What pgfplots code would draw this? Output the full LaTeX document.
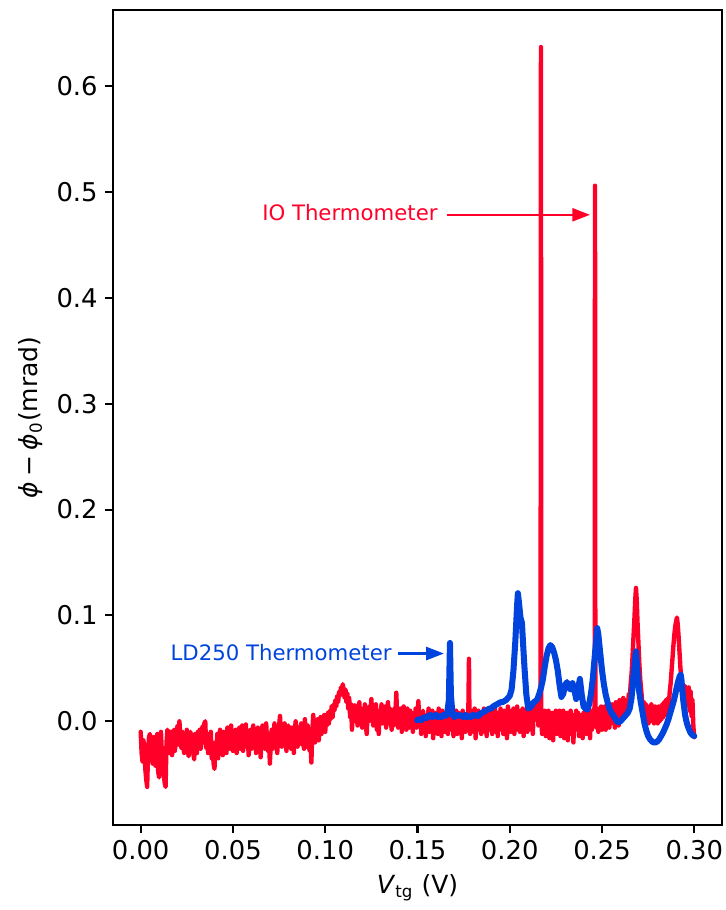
\documentclass[border=0pt]{standalone}
\usepackage{fontspec}
\setmainfont{DejaVu Sans}
\usepackage{pgfplots}
\pgfplotsset{compat=1.18}
\usetikzlibrary{arrows.meta,calc}
\definecolor{myred}{RGB}{255,0,40}
\definecolor{myblue}{RGB}{0,68,221}

\begin{document}
\begin{tikzpicture}
\begin{axis}[
  scale only axis, width=292.3pt, height=391.2pt,
  xmin=-0.015, xmax=0.315, ymin=-0.098, ymax=0.672,
  xtick={0,0.05,0.1,0.15,0.2,0.25,0.3},
  ytick={0,0.1,0.2,0.3,0.4,0.5,0.6},
  xticklabel style={/pgf/number format/.cd, fixed, fixed zerofill, precision=2},
  yticklabel style={/pgf/number format/.cd, fixed, fixed zerofill, precision=1},
  /pgf/number format/assume math mode=true,
  ticklabel style={font=\fontsize{12.4}{14}\selectfont},
  scaled x ticks=false, scaled y ticks=false,
  tick align=outside, major tick length=3.84pt,
  xtick pos=bottom, ytick pos=left,
  axis line style={line width=1pt},
  every tick/.style={black, line width=1pt},
  label style={font=\fontsize{12}{14}\selectfont},
  xlabel={\textit{V}\textsubscript{tg} (V)},
  ylabel={\textit{ϕ}\hspace{0.22em}−\hspace{0.22em}\textit{ϕ}\textsubscript{0}(mrad)},
  xlabel style={at={([yshift=-33pt]axis description cs:0.5,0)}, anchor=base},
  ylabel style={at={([xshift=-36pt]axis description cs:0,0.5)}, anchor=base},
]
\addplot[myred, line width=2.1pt, line join=round, line cap=round] coordinates {
(0.0000,-0.010) (0.0005,-0.030) (0.0010,-0.038) (0.0015,-0.018) (0.0020,-0.025) (0.0025,-0.045) (0.0030,-0.055) (0.0035,-0.062) (0.0040,-0.030) (0.0045,-0.015)
(0.0050,-0.012) (0.0055,-0.035) (0.0060,-0.025) (0.0065,-0.040) (0.0070,-0.015) (0.0075,-0.028) (0.0080,-0.042) (0.0085,-0.020) (0.0090,-0.012) (0.0095,-0.048)
(0.0100,-0.053) (0.0105,-0.020) (0.0110,-0.010) (0.0115,-0.032) (0.0120,-0.025) (0.0125,-0.050) (0.0130,-0.058) (0.0135,-0.062) (0.0140,-0.020) (0.0145,-0.008)
(0.0150,-0.015) (0.0155,-0.030) (0.0160,-0.010) (0.0165,-0.025) (0.0170,-0.032) (0.0175,-0.012) (0.0180,-0.008) (0.0185,-0.028) (0.0190,-0.020) (0.0195,-0.010)
(0.0200,-0.004) (0.0205,-0.022) (0.0210,0.000) (0.0215,-0.015) (0.0220,-0.025) (0.0225,-0.010) (0.0230,-0.018) (0.0235,-0.030) (0.0240,-0.012) (0.0245,-0.022)
(0.0250,-0.008) (0.0255,-0.028) (0.0260,-0.033) (0.0265,-0.015) (0.0270,-0.010) (0.0275,-0.025) (0.0280,-0.018) (0.0285,-0.030) (0.0290,-0.036) (0.0295,-0.012)
(0.0300,-0.020) (0.0305,-0.030) (0.0310,-0.010) (0.0315,-0.022) (0.0320,-0.008) (0.0325,-0.026) (0.0330,-0.015) (0.0335,-0.005) (0.0340,-0.020) (0.0345,-0.002)
(0.0350,0.000) (0.0355,-0.025) (0.0360,-0.012) (0.0365,-0.030) (0.0370,-0.018) (0.0375,-0.028) (0.0380,-0.010) (0.0385,-0.035) (0.0390,-0.022) (0.0395,-0.040)
(0.0400,-0.045) (0.0405,-0.020) (0.0410,-0.030) (0.0415,-0.012) (0.0420,-0.035) (0.0425,-0.018) (0.0430,-0.008) (0.0435,-0.028) (0.0440,-0.020) (0.0445,-0.032)
(0.0450,-0.010) (0.0455,-0.025) (0.0460,-0.015) (0.0465,-0.030) (0.0470,-0.006) (0.0475,-0.022) (0.0480,-0.012) (0.0485,-0.026) (0.0490,-0.004) (0.0495,-0.018)
(0.0500,-0.028) (0.0505,-0.012) (0.0510,-0.022) (0.0515,-0.008) (0.0520,-0.030) (0.0525,-0.016) (0.0530,-0.024) (0.0535,-0.006) (0.0540,-0.026) (0.0545,-0.014)
(0.0550,-0.004) (0.0555,-0.028) (0.0560,-0.018) (0.0565,-0.010) (0.0570,-0.003) (0.0575,-0.024) (0.0580,-0.012) (0.0585,-0.032) (0.0590,-0.020) (0.0595,-0.008)
(0.0600,-0.026) (0.0605,-0.014) (0.0610,-0.004) (0.0615,-0.022) (0.0620,-0.010) (0.0625,-0.030) (0.0630,-0.018) (0.0635,-0.006) (0.0640,-0.024) (0.0645,-0.012)
(0.0650,-0.034) (0.0655,-0.016) (0.0660,-0.004) (0.0665,-0.022) (0.0670,-0.010) (0.0675,-0.026) (0.0680,-0.002) (0.0685,-0.018) (0.0690,-0.028) (0.0695,-0.012)
(0.0700,-0.040) (0.0705,-0.022) (0.0710,-0.008) (0.0715,-0.026) (0.0720,-0.014) (0.0725,-0.002) (0.0730,-0.020) (0.0735,-0.010) (0.0740,-0.030) (0.0745,-0.016)
(0.0750,-0.004) (0.0755,0.005) (0.0760,-0.012) (0.0765,-0.024) (0.0770,-0.008) (0.0775,-0.020) (0.0780,-0.002) (0.0785,-0.016) (0.0790,-0.028) (0.0795,-0.010)
(0.0800,-0.004) (0.0805,-0.022) (0.0810,-0.012) (0.0815,-0.026) (0.0820,-0.006) (0.0825,-0.018) (0.0830,-0.030) (0.0835,-0.008) (0.0840,0.000) (0.0845,-0.016)
(0.0850,-0.024) (0.0855,-0.006) (0.0860,-0.020) (0.0865,-0.010) (0.0870,-0.002) (0.0875,-0.022) (0.0880,-0.012) (0.0885,-0.026) (0.0890,0.002) (0.0895,-0.014)
(0.0900,-0.024) (0.0905,-0.004) (0.0910,-0.016) (0.0915,-0.028) (0.0920,-0.020) (0.0925,-0.039) (0.0930,-0.010) (0.0935,0.006) (0.0940,-0.008) (0.0945,-0.020)
(0.0950,-0.004) (0.0955,-0.014) (0.0960,0.002) (0.0965,-0.018) (0.0970,-0.006) (0.0975,0.004) (0.0980,-0.012) (0.0985,0.000) (0.0990,-0.008) (0.0995,0.006)
(0.1000,-0.010) (0.1005,0.002) (0.1010,-0.004) (0.1015,0.008) (0.1020,-0.002) (0.1025,0.010) (0.1030,0.002) (0.1035,0.014) (0.1040,0.004) (0.1045,0.016)
(0.1050,0.010) (0.1055,0.020) (0.1060,0.014) (0.1065,0.024) (0.1070,0.018) (0.1075,0.028) (0.1080,0.024) (0.1085,0.032) (0.1090,0.028) (0.1095,0.035)
(0.1100,0.030) (0.1105,0.022) (0.1110,0.030) (0.1115,0.018) (0.1120,0.026) (0.1125,0.012) (0.1130,0.022) (0.1135,0.004) (0.1140,0.016) (0.1145,-0.008)
(0.1150,0.010) (0.1155,0.000) (0.1160,0.015) (0.1165,0.004) (0.1170,0.012) (0.1175,-0.004) (0.1180,0.010) (0.1185,0.018) (0.1190,0.000) (0.1195,0.008)
(0.1200,-0.006) (0.1205,0.012) (0.1210,0.002) (0.1215,0.016) (0.1220,-0.004) (0.1225,-0.012) (0.1230,0.010) (0.1235,0.000) (0.1240,0.014) (0.1245,0.004)
(0.1250,0.021) (0.1255,0.006) (0.1260,-0.004) (0.1265,0.012) (0.1270,0.000) (0.1275,0.016) (0.1280,-0.008) (0.1285,0.006) (0.1290,-0.012) (0.1295,0.010)
(0.1300,0.002) (0.1305,0.016) (0.1310,-0.002) (0.1315,0.012) (0.1320,0.000) (0.1325,0.014) (0.1330,-0.006) (0.1335,0.008) (0.1340,0.018) (0.1345,-0.002)
(0.1350,0.012) (0.1355,0.002) (0.1360,-0.008) (0.1365,0.010) (0.1370,-0.004) (0.1375,0.012) (0.1380,0.004) (0.1385,0.027) (0.1390,0.006) (0.1395,-0.006)
(0.1400,0.010) (0.1405,-0.002) (0.1410,0.012) (0.1415,-0.010) (0.1420,0.006) (0.1425,0.014) (0.1430,-0.004) (0.1435,0.008) (0.1440,-0.008) (0.1445,0.012)
(0.1450,0.002) (0.1455,-0.006) (0.1460,0.010) (0.1465,-0.004) (0.1470,0.008) (0.1475,-0.010) (0.1480,0.006) (0.1485,-0.002) (0.1490,0.012) (0.1495,-0.006)
(0.1500,0.008) (0.1505,0.019) (0.1510,-0.004) (0.1515,0.008) (0.1520,-0.012) (0.1525,0.004) (0.1530,0.010) (0.1535,-0.008) (0.1540,0.002) (0.1545,-0.014)
(0.1550,0.006) (0.1555,-0.002) (0.1560,0.012) (0.1565,-0.010) (0.1570,0.004) (0.1575,-0.006) (0.1580,0.010) (0.1585,-0.016) (0.1590,0.002) (0.1595,0.008)
(0.1600,-0.008) (0.1605,0.006) (0.1610,-0.012) (0.1615,0.012) (0.1620,-0.004) (0.1625,0.002) (0.1630,-0.014) (0.1635,0.010) (0.1640,-0.006) (0.1645,0.004)
(0.1650,-0.010) (0.1655,0.008) (0.1660,-0.002) (0.1665,-0.012) (0.1670,0.006) (0.1675,-0.008) (0.1680,0.012) (0.1685,-0.004) (0.1690,0.004) (0.1695,-0.014)
(0.1700,0.006) (0.1705,-0.006) (0.1710,0.010) (0.1715,-0.012) (0.1720,0.002) (0.1725,0.008) (0.1730,-0.010) (0.1735,0.004) (0.1740,-0.016) (0.1745,0.010)
(0.1750,-0.002) (0.1755,0.006) (0.1760,-0.010) (0.1765,0.004) (0.1770,-0.008) (0.1775,0.002) (0.1779,0.059) (0.1782,-0.004) (0.1785,-0.012) (0.1790,0.008)
(0.1795,-0.006) (0.1800,0.010) (0.1805,-0.010) (0.1810,0.012) (0.1815,-0.016) (0.1820,0.004) (0.1825,-0.008) (0.1830,0.010) (0.1835,-0.004) (0.1840,0.008)
(0.1845,-0.012) (0.1850,0.006) (0.1855,-0.002) (0.1860,0.012) (0.1865,-0.010) (0.1870,0.006) (0.1875,-0.014) (0.1880,0.008) (0.1885,-0.006) (0.1890,0.010)
(0.1895,-0.008) (0.1900,0.004) (0.1905,-0.012) (0.1910,0.010) (0.1915,-0.004) (0.1920,0.012) (0.1925,-0.010) (0.1930,0.002) (0.1935,-0.014) (0.1940,0.008)
(0.1945,-0.006) (0.1950,0.012) (0.1955,-0.008) (0.1960,0.006) (0.1965,-0.012) (0.1970,0.010) (0.1975,-0.004) (0.1980,0.008) (0.1985,-0.016) (0.1990,0.014)
(0.1995,-0.002) (0.2000,0.006) (0.2005,-0.010) (0.2010,0.010) (0.2015,-0.006) (0.2020,0.012) (0.2025,-0.012) (0.2030,0.004) (0.2035,-0.008) (0.2040,0.014)
(0.2045,-0.002) (0.2050,0.010) (0.2055,-0.010) (0.2060,0.006) (0.2065,-0.004) (0.2070,0.012) (0.2075,-0.014) (0.2080,0.008) (0.2085,-0.006) (0.2090,0.010)
(0.2095,-0.010) (0.2100,0.004) (0.2105,-0.008) (0.2110,0.012) (0.2115,-0.004) (0.2120,0.016) (0.2125,-0.012) (0.2130,0.010) (0.2135,0.002) (0.2140,0.020)
(0.2145,0.006) (0.2150,0.016) (0.2155,-0.004) (0.2160,0.012) (0.2165,0.004) (0.2167,0.018) (0.2169,0.637) (0.2171,0.006) (0.2175,-0.012) (0.2180,0.008)
(0.2185,-0.006) (0.2190,0.010) (0.2195,-0.014) (0.2200,0.004) (0.2205,-0.008) (0.2210,0.010) (0.2215,-0.016) (0.2220,0.006) (0.2225,-0.010) (0.2230,0.008)
(0.2235,-0.018) (0.2240,0.004) (0.2245,-0.006) (0.2250,0.010) (0.2255,-0.012) (0.2260,0.006) (0.2265,-0.004) (0.2270,0.010) (0.2275,-0.014) (0.2280,0.004)
(0.2285,-0.008) (0.2290,0.010) (0.2295,-0.016) (0.2300,0.006) (0.2305,-0.006) (0.2310,0.008) (0.2315,-0.018) (0.2320,0.002) (0.2325,-0.010) (0.2330,0.010)
(0.2335,-0.012) (0.2340,0.004) (0.2345,-0.020) (0.2350,0.006) (0.2355,-0.008) (0.2360,0.010) (0.2365,-0.004) (0.2370,0.008) (0.2375,-0.014) (0.2380,0.006)
(0.2385,-0.010) (0.2390,0.004) (0.2395,-0.016) (0.2400,0.008) (0.2405,-0.006) (0.2410,0.010) (0.2415,-0.012) (0.2420,0.006) (0.2425,-0.004) (0.2430,0.010)
(0.2435,-0.016) (0.2440,0.006) (0.2445,-0.008) (0.2450,0.008) (0.2455,0.012) (0.2460,0.004) (0.2462,0.506) (0.2464,0.008) (0.2470,-0.006) (0.2475,0.010)
(0.2480,-0.010) (0.2485,0.012) (0.2490,-0.004) (0.2495,0.014) (0.2500,-0.008) (0.2505,0.010) (0.2510,-0.002) (0.2515,0.014) (0.2520,-0.008) (0.2525,0.010)
(0.2530,-0.004) (0.2535,0.016) (0.2540,-0.006) (0.2545,0.012) (0.2550,-0.002) (0.2555,0.016) (0.2560,0.000) (0.2565,0.010) (0.2570,-0.006) (0.2575,0.018)
(0.2580,0.002) (0.2585,0.012) (0.2590,-0.004) (0.2595,0.020) (0.2600,0.004) (0.2605,0.014) (0.2610,0.002) (0.2615,0.022) (0.2620,0.008) (0.2625,0.020)
(0.2630,0.006) (0.2635,0.018) (0.2640,0.012) (0.2645,0.026) (0.2650,0.020) (0.2655,0.035) (0.2660,0.045) (0.2665,0.060) (0.2670,0.078) (0.2675,0.095)
(0.2680,0.115) (0.2684,0.126) (0.2688,0.115) (0.2692,0.095) (0.2697,0.075) (0.2702,0.055) (0.2707,0.040) (0.2712,0.030) (0.2717,0.020) (0.2722,0.010)
(0.2727,0.018) (0.2732,0.004) (0.2737,0.016) (0.2742,0.002) (0.2747,0.014) (0.2752,-0.002) (0.2757,0.012) (0.2762,0.000) (0.2767,0.016) (0.2772,0.002)
(0.2777,0.012) (0.2782,-0.002) (0.2787,0.014) (0.2792,0.004) (0.2797,0.010) (0.2802,-0.002) (0.2807,0.014) (0.2812,0.000) (0.2817,0.012) (0.2822,0.002)
(0.2827,0.016) (0.2832,0.004) (0.2837,0.018) (0.2842,0.006) (0.2847,0.020) (0.2852,0.010) (0.2857,0.022) (0.2862,0.016) (0.2867,0.028) (0.2872,0.036)
(0.2877,0.048) (0.2882,0.060) (0.2887,0.072) (0.2892,0.082) (0.2897,0.090) (0.2902,0.095) (0.2906,0.098) (0.2910,0.092) (0.2915,0.080) (0.2920,0.065)
(0.2925,0.050) (0.2930,0.040) (0.2935,0.030) (0.2940,0.034) (0.2945,0.022) (0.2950,0.033) (0.2955,0.018) (0.2960,0.030) (0.2965,0.015) (0.2970,0.032)
(0.2975,0.010) (0.2980,0.028) (0.2985,0.005) (0.2990,0.020) (0.2995,-0.005) (0.3000,-0.015)
};
\addplot[myblue, line width=2.9pt, line join=round, line cap=round] coordinates {
(0.1498,0.001) (0.151,0.002) (0.152,0.001) (0.153,0.003) (0.154,0.004) (0.155,0.003) (0.156,0.005) (0.157,0.006) (0.158,0.004) (0.159,0.005)
(0.160,0.006) (0.161,0.004) (0.162,0.005) (0.163,0.004) (0.164,0.006) (0.165,0.005) (0.166,0.006) (0.167,0.020) (0.1676,0.074) (0.1681,0.025)
(0.169,0.006) (0.170,0.004) (0.171,0.006) (0.172,0.005) (0.173,0.006) (0.174,0.005) (0.175,0.004) (0.176,0.006) (0.177,0.004) (0.178,0.005)
(0.179,0.004) (0.180,0.006) (0.181,0.005) (0.182,0.006) (0.183,0.005) (0.184,0.007) (0.185,0.008) (0.186,0.009) (0.187,0.010) (0.188,0.011)
(0.189,0.012) (0.190,0.012) (0.191,0.014) (0.192,0.015) (0.193,0.016) (0.194,0.017) (0.195,0.018) (0.196,0.018) (0.197,0.019) (0.198,0.020)
(0.199,0.022) (0.200,0.024) (0.201,0.030) (0.202,0.048) (0.203,0.075) (0.204,0.110) (0.2044,0.121) (0.205,0.112) (0.2058,0.098) (0.2066,0.093)
(0.207,0.080) (0.208,0.050) (0.209,0.025) (0.210,0.012) (0.211,0.013) (0.212,0.015) (0.213,0.018) (0.214,0.019) (0.215,0.021) (0.216,0.026)
(0.217,0.032) (0.218,0.040) (0.219,0.052) (0.220,0.062) (0.221,0.069) (0.222,0.072) (0.223,0.070) (0.224,0.065) (0.225,0.058) (0.226,0.048)
(0.227,0.034) (0.228,0.023) (0.229,0.026) (0.230,0.034) (0.231,0.037) (0.232,0.032) (0.233,0.030) (0.234,0.036) (0.235,0.030) (0.236,0.021)
(0.237,0.030) (0.238,0.040) (0.239,0.025) (0.240,0.014) (0.241,0.012) (0.242,0.011) (0.243,0.016) (0.244,0.026) (0.245,0.040) (0.246,0.060)
(0.247,0.080) (0.2474,0.088) (0.248,0.082) (0.249,0.065) (0.250,0.048) (0.251,0.035) (0.252,0.025) (0.253,0.018) (0.254,0.012) (0.255,0.008)
(0.256,0.006) (0.257,0.003) (0.258,0.000) (0.259,-0.001) (0.260,0.000) (0.261,0.002) (0.262,0.004) (0.263,0.006) (0.264,0.008) (0.265,0.012)
(0.266,0.022) (0.267,0.042) (0.268,0.060) (0.2684,0.066) (0.269,0.052) (0.270,0.030) (0.271,0.018) (0.272,0.008) (0.273,-0.002) (0.274,-0.009)
(0.275,-0.014) (0.276,-0.017) (0.277,-0.019) (0.278,-0.020) (0.279,-0.020) (0.280,-0.019) (0.281,-0.017) (0.282,-0.014) (0.283,-0.011) (0.284,-0.007)
(0.285,-0.003) (0.286,0.002) (0.287,0.008) (0.288,0.014) (0.289,0.020) (0.290,0.028) (0.291,0.036) (0.292,0.042) (0.2926,0.044) (0.293,0.040)
(0.294,0.020) (0.295,0.006) (0.296,-0.002) (0.297,-0.007) (0.298,-0.011) (0.299,-0.013) (0.300,-0.014)
};
\node[anchor=east, inner sep=0pt, text=myred, font=\fontsize{10.2}{12}\selectfont] at (axis cs:0.1611,0.4804) {IO Thermometer};
\draw[myred, line width=1pt, -{Triangle[length=8.5pt,width=6.3pt]}] (axis cs:0.1660,0.4785) -- (axis cs:0.2435,0.4785);
\node[anchor=east, inner sep=0pt, text=myblue, font=\fontsize{10.2}{12}\selectfont] at (axis cs:0.1362,0.065) {LD250 Thermometer};
\draw[myblue, line width=1pt, -{Triangle[length=8.5pt,width=6.3pt]}] (axis cs:0.1394,0.064) -- (axis cs:0.1643,0.064);
\end{axis}
\pgfresetboundingbox
\path ($(current axis.south west)+(-54.24pt,-40.8pt)$) rectangle ($(current axis.north east)+(1.92pt,4.8pt)$);
\end{tikzpicture}
\end{document}
